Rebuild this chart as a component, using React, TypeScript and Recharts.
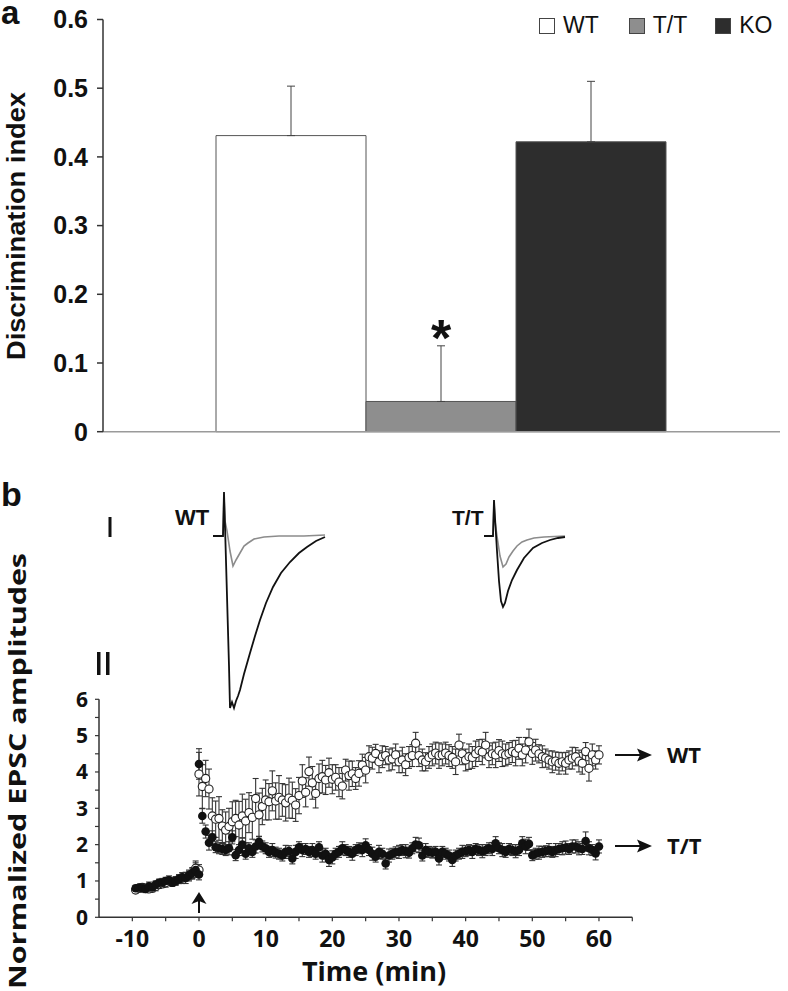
import React from "react";
import {
  BarChart,
  Bar,
  XAxis,
  YAxis,
  ErrorBar,
  Legend,
  ScatterChart,
  Scatter,
  LineChart,
  Line,
} from "recharts";

// ---- panel a: discrimination index ----
const groups = ["WT", "T/T", "KO"];
const discMeans = [0.431, 0.044, 0.422];
const discErrs = [0.072, 0.081, 0.088];
const groupFills = ["#ffffff", "#8e8e8e", "#2d2d2d"];
const discTicks = [0, 0.1, 0.2, 0.3, 0.4, 0.5, 0.6];

// ---- panel b: normalized EPSC amplitudes over time (min) ----
const baseTime = [
  -9.5, -9, -8.5, -8, -7.5, -7, -6.5, -6, -5.5, -5, -4.5, -4, -3.5, -3, -2.5, -2, -1.5, -1, -0.5, 0,
];
const wtBase = [
  0.75, 0.8, 0.82, 0.8, 0.78, 0.8, 0.85, 0.9, 0.92, 0.95, 1.0, 0.98, 1.0, 1.05, 1.08, 1.12, 1.15, 1.2, 1.35, 1.3,
];
const wtBaseErr = [
  0.08, 0.1, 0.1, 0.08, 0.08, 0.1, 0.12, 0.1, 0.1, 0.12, 0.1, 0.1, 0.12, 0.12, 0.15, 0.12, 0.15, 0.15, 0.2, 0.15,
];
const ttBase = [
  0.8, 0.82, 0.8, 0.78, 0.85, 0.82, 0.9, 0.95, 0.95, 1.0, 1.02, 0.95, 1.0, 1.05, 1.1, 1.08, 1.15, 1.22, 1.3, 1.18,
];
const ttBaseErr = [
  0.08, 0.08, 0.1, 0.1, 0.12, 0.1, 0.1, 0.1, 0.12, 0.1, 0.12, 0.1, 0.1, 0.12, 0.12, 0.15, 0.12, 0.15, 0.2, 0.15,
];

const postTime = [
  0, 0.5, 1, 1.5, 2, 2.5, 3, 3.5, 4, 4.5,
  5, 5.5, 6, 6.5, 7, 7.5, 8, 8.5, 9, 9.5,
  10, 10.5, 11, 11.5, 12, 12.5, 13, 13.5, 14, 14.5,
  15, 15.5, 16, 16.5, 17, 17.5, 18, 18.5, 19, 19.5,
  20, 20.5, 21, 21.5, 22, 22.5, 23, 23.5, 24, 24.5,
  25, 25.5, 26, 26.5, 27, 27.5, 28, 28.5, 29, 29.5,
  30, 30.5, 31, 31.5, 32, 32.5, 33, 33.5, 34, 34.5,
  35, 35.5, 36, 36.5, 37, 37.5, 38, 38.5, 39, 39.5,
  40, 40.5, 41, 41.5, 42, 42.5, 43, 43.5, 44, 44.5,
  45, 45.5, 46, 46.5, 47, 47.5, 48, 48.5, 49, 49.5,
  50, 50.5, 51, 51.5, 52, 52.5, 53, 53.5, 54, 54.5,
  55, 55.5, 56, 56.5, 57, 57.5, 58, 58.5, 59, 59.5,
  60,
];
const wtPost = [
  3.94, 3.6, 3.82, 3.53, 2.79, 2.7, 2.72, 2.51, 2.4, 2.5,
  2.63, 2.72, 2.54, 2.79, 2.65, 2.88, 2.75, 3.27, 2.82, 3.05,
  3.23, 3.18, 3.48, 3.2, 3.3, 3.23, 3.15, 3.28, 3.22, 3.09,
  3.35, 3.75, 3.44, 4.01, 3.7, 3.41, 3.82, 3.87, 3.78, 3.98,
  3.8, 3.85, 3.72, 3.61, 4.05, 3.9, 3.95, 3.82, 3.96, 4.19,
  4.05, 4.42, 4.38, 4.51, 4.28, 4.42, 4.45, 4.33, 4.36, 4.47,
  4.28, 4.33, 4.2, 4.4, 4.45, 4.79, 4.45, 4.33, 4.28, 4.4,
  4.47, 4.52, 4.45, 4.47, 4.52, 4.45, 4.4, 4.28, 4.74, 4.5,
  4.33, 4.42, 4.4, 4.5, 4.59, 4.55, 4.74, 4.42, 4.5, 4.47,
  4.59, 4.5, 4.47, 4.51, 4.56, 4.52, 4.65, 4.47, 4.6, 4.83,
  4.51, 4.6, 4.5, 4.42, 4.38, 4.33, 4.28, 4.3, 4.24, 4.28,
  4.24, 4.33, 4.38, 4.42, 4.3, 4.24, 4.56, 4.1, 4.47, 4.33,
  4.47,
];
const wtPostErr = [
  0.6, 0.6, 0.5, 0.55, 0.5, 0.5, 0.6, 0.45, 0.5, 0.5,
  0.55, 0.5, 0.65, 0.6, 0.6, 0.55, 0.6, 0.55, 0.6, 0.5,
  0.55, 0.5, 0.55, 0.5, 0.6, 0.45, 0.5, 0.55, 0.5, 0.45,
  0.5, 0.45, 0.4, 0.4, 0.45, 0.4, 0.4, 0.45, 0.4, 0.4,
  0.4, 0.35, 0.4, 0.35, 0.3, 0.4, 0.35, 0.3, 0.35, 0.3,
  0.35, 0.3, 0.3, 0.25, 0.3, 0.3, 0.25, 0.3, 0.3, 0.3,
  0.3, 0.35, 0.3, 0.3, 0.3, 0.3, 0.3, 0.3, 0.25, 0.3,
  0.3, 0.3, 0.35, 0.3, 0.3, 0.3, 0.3, 0.35, 0.3, 0.3,
  0.3, 0.35, 0.3, 0.35, 0.3, 0.35, 0.35, 0.3, 0.3, 0.35,
  0.3, 0.35, 0.3, 0.3, 0.3, 0.35, 0.3, 0.3, 0.35, 0.35,
  0.3, 0.3, 0.25, 0.3, 0.25, 0.25, 0.3, 0.25, 0.3, 0.25,
  0.3, 0.25, 0.3, 0.25, 0.3, 0.3, 0.25, 0.35, 0.3, 0.25,
  0.25,
];
const ttPost = [
  4.22, 2.79, 2.36, 2.05, 2.2, 1.93, 1.9, 1.88, 1.85, 1.9,
  2.2, 1.71, 1.85, 2.0, 1.75, 1.9, 1.8, 1.95, 2.08, 1.95,
  1.9, 1.8, 1.85, 1.78, 1.75, 1.7, 1.8, 1.82, 1.62, 1.8,
  1.93, 1.85, 1.88, 1.8, 1.85, 1.75, 1.93, 1.7, 1.75, 1.58,
  1.65, 1.75, 1.8, 1.9, 1.85, 1.8, 1.75, 1.85, 1.9, 1.85,
  1.98, 1.85, 1.75, 1.67, 1.8, 1.75, 1.48, 1.7, 1.75, 1.79,
  1.8, 1.85, 1.82, 1.78, 1.9, 2.0, 1.98, 1.7, 1.85, 1.8,
  1.78, 1.8, 1.62, 1.8, 1.75, 1.7, 1.58, 1.7, 1.75, 1.8,
  1.82, 1.85, 1.8, 1.88, 1.85, 1.82, 1.85, 1.9, 1.88, 2.04,
  1.9, 1.85, 1.8, 1.88, 1.85, 1.82, 1.85, 2.04, 1.95, 2.02,
  1.71, 1.75, 1.78, 1.8, 1.82, 1.85, 1.8, 1.85, 1.88, 1.9,
  1.92, 1.88, 1.95, 1.95, 1.9, 1.88, 2.1, 1.9, 1.85, 1.76,
  1.95,
];
const ttPostErr = [
  0.42, 0.2, 0.18, 0.2, 0.18, 0.15, 0.15, 0.15, 0.15, 0.18,
  0.18, 0.15, 0.15, 0.18, 0.15, 0.15, 0.15, 0.18, 0.15, 0.15,
  0.15, 0.15, 0.18, 0.15, 0.15, 0.15, 0.18, 0.15, 0.15, 0.18,
  0.15, 0.18, 0.15, 0.15, 0.18, 0.15, 0.15, 0.18, 0.15, 0.18,
  0.18, 0.15, 0.15, 0.18, 0.15, 0.15, 0.18, 0.15, 0.15, 0.18,
  0.18, 0.15, 0.18, 0.15, 0.18, 0.15, 0.15, 0.18, 0.15, 0.15,
  0.18, 0.15, 0.18, 0.15, 0.15, 0.2, 0.2, 0.15, 0.18, 0.15,
  0.15, 0.15, 0.18, 0.15, 0.15, 0.15, 0.18, 0.15, 0.15, 0.18,
  0.15, 0.15, 0.18, 0.15, 0.15, 0.18, 0.15, 0.15, 0.18, 0.18,
  0.15, 0.18, 0.15, 0.15, 0.15, 0.18, 0.15, 0.18, 0.2, 0.18,
  0.15, 0.15, 0.18, 0.15, 0.15, 0.18, 0.15, 0.18, 0.15, 0.18,
  0.18, 0.15, 0.18, 0.18, 0.18, 0.15, 0.25, 0.18, 0.15, 0.18,
  0.18,
];
const xTicks = [-10, -5, 0, 5, 10, 15, 20, 25, 30, 35, 40, 45, 50, 55, 60, 65];
const yTicks = [0, 0.5, 1, 1.5, 2, 2.5, 3, 3.5, 4, 4.5, 5, 5.5, 6];

// ---- example EPSC traces (ms from stimulus, amplitude in arbitrary units) ----
const wtGrayT = [-11, -1, 0, 1, 3, 6, 9, 12, 16, 20, 24, 30, 40, 55, 80, 101];
const wtGrayA = [0, 0, 40, 15, 5, -15, -30, -24, -17, -10, -7, -3, -1, 0, 0, 1];
const wtBlackT = [-11, -1, 0, 1, 3, 5, 6, 8, 10, 12, 14, 16, 20, 26, 31, 36, 42, 49, 57, 66, 75, 83, 92, 101];
const wtBlackA = [0, 0, 44, 10, -60, -130, -172, -166, -172, -165, -160, -154, -138, -117, -100, -84, -67, -51, -37, -26, -17, -11, -5, -1];
const ttGrayT = [-10, -1, 0, 1, 3, 6, 9, 12, 15, 19, 23, 28, 33, 40, 50, 71];
const ttGrayA = [0, 0, 34, 15, 0, -20, -31, -28, -21, -15, -10, -6, -4, -2, -1, 0];
const ttBlackT = [-10, -1, 0, 1, 3, 5, 7, 9, 11, 14, 18, 23, 30, 39, 48, 56, 64, 71];
const ttBlackA = [0, 0, 36, 18, -15, -45, -65, -71, -67, -55, -44, -34, -22, -12, -7, -4, -2, -1];

const ARIAL = "'Liberation Sans', Arial, sans-serif";
const SANS = "'Open Sans', 'Noto Sans', sans-serif";

const discRow: any = { name: "" };
groups.forEach((g, i) => {
  discRow[`g${i}`] = discMeans[i];
  discRow[`e${i}`] = [0, discErrs[i]];
});

const toPoints = (ts: number[], vs: number[], es: number[]) =>
  ts.map((t, i) => ({ t, v: vs[i], e: es[i] }));
const wtData = [...toPoints(baseTime, wtBase, wtBaseErr), ...toPoints(postTime, wtPost, wtPostErr)];
const ttData = [...toPoints(baseTime, ttBase, ttBaseErr), ...toPoints(postTime, ttPost, ttPostErr)];

const toTrace = (ts: number[], as: number[]) => ts.map((t, i) => ({ t, a: as[i] }));

// legend in series order (recharts hands the payload back reversed here)
function LegendContent() {
  return (
    <div style={{ display: "flex", alignItems: "center", fontFamily: ARIAL, fontSize: 23, color: "#111" }}>
      {groups.map((g, i) => (
        <div key={g} style={{ display: "flex", alignItems: "center", marginRight: i === 0 ? 30 : 28 }}>
          <span
            style={{
              display: "inline-block",
              width: 14,
              height: 14,
              background: groupFills[i],
              border: "1px solid #444",
              marginRight: 8,
            }}
          />
          <span>{g}</span>
        </div>
      ))}
    </div>
  );
}

const OpenDot = (p: any) => (
  <circle cx={p.cx} cy={p.cy} r={4.1} fill="#fff" stroke="#222" strokeWidth={1.1} />
);
const FilledDot = (p: any) => <circle cx={p.cx} cy={p.cy} r={4.3} fill="#111" />;

function Trace({ left, grayT, grayA, blackT, blackA, xMax }: any) {
  return (
    <div style={{ position: "absolute", left, top: 491 }}>
      <LineChart width={12 + xMax} height={220} margin={{ top: 0, right: 0, bottom: 0, left: 0 }}>
        <XAxis type="number" dataKey="t" domain={[-12, xMax]} hide allowDataOverflow />
        <YAxis type="number" domain={[-175, 45]} hide allowDataOverflow />
        <Line data={toTrace(grayT, grayA)} dataKey="a" stroke="#8c8c8c" strokeWidth={1.6} dot={false} isAnimationActive={false} />
        <Line data={toTrace(blackT, blackA)} dataKey="a" stroke="#111" strokeWidth={1.8} dot={false} isAnimationActive={false} />
      </LineChart>
    </div>
  );
}

export default function App() {
  return (
    <div style={{ position: "absolute", left: 0, top: 0, width: 788, height: 991, background: "#fff", overflow: "hidden" }}>
      {/* panel a */}
      <div style={{ position: "absolute", left: 0, top: 0 }}>
        <BarChart
          width={788}
          height={470}
          data={[discRow]}
          barGap={0}
          barCategoryGap={113}
          margin={{ top: 19.5, right: 8, bottom: 36.3, left: 20 }}
        >
          <XAxis dataKey="name" tick={false} tickLine={false} height={2} axisLine={{ stroke: "#9a9a9a", strokeWidth: 1.5 }} />
          <YAxis
            domain={[0, 0.6]}
            ticks={discTicks}
            width={83}
            tickSize={6}
            tickMargin={9}
            axisLine={{ stroke: "#333", strokeWidth: 1.5 }}
            tickLine={{ stroke: "#333", strokeWidth: 1.5 }}
            tick={{ fill: "#111", fontSize: 25, fontWeight: 700, fontFamily: ARIAL }}
            tickFormatter={(v: number) => (v === 0 ? "0" : v.toFixed(1))}
          />
          <Legend
            align="center"
            verticalAlign="middle"
            wrapperStyle={{ top: 12, left: 539, width: 260 }}
            content={<LegendContent />}
          />
          {groups.map((g, i) => (
            <Bar
              key={g}
              dataKey={`g${i}`}
              name={g}
              fill={groupFills[i]}
              stroke="#555"
              strokeWidth={1}
              isAnimationActive={false}
            >
              <ErrorBar dataKey={`e${i}`} width={4} stroke="#444" strokeWidth={1} direction="y" />
            </Bar>
          ))}
        </BarChart>
      </div>

      {/* panel b traces */}
      <Trace left={212} grayT={wtGrayT} grayA={wtGrayA} blackT={wtBlackT} blackA={wtBlackA} xMax={102} />
      <Trace left={482} grayT={ttGrayT} grayA={ttGrayA} blackT={ttBlackT} blackA={ttBlackA} xMax={72} />

      {/* panel b time course */}
      <div style={{ position: "absolute", left: 0, top: 680 }}>
        <ScatterChart width={788} height={311} margin={{ top: 19.3, right: 155.7, bottom: 33.7, left: 20 }}>
          <XAxis
            type="number"
            dataKey="t"
            domain={[-15, 65]}
            ticks={xTicks}
            height={40}
            tickSize={4}
            tickMargin={9}
            axisLine={{ stroke: "#333", strokeWidth: 1.5 }}
            tickLine={{ stroke: "#333", strokeWidth: 1.2 }}
            tick={{ fill: "#111", fontSize: 23, fontWeight: 700, fontFamily: SANS }}
            tickFormatter={(v: number) => (v % 10 === 0 && v <= 60 ? String(v) : "")}
            interval={0}
          />
          <YAxis
            type="number"
            dataKey="v"
            domain={[0, 6]}
            ticks={yTicks}
            width={79}
            tickSize={4}
            tickMargin={7}
            axisLine={{ stroke: "#333", strokeWidth: 1.5 }}
            tickLine={{ stroke: "#333", strokeWidth: 1.2 }}
            tick={{ fill: "#111", fontSize: 21, fontWeight: 700, fontFamily: SANS }}
            tickFormatter={(v: number) => (Number.isInteger(v) ? String(v) : "")}
            interval={0}
          />
          <Scatter name="WT" data={wtData} shape={OpenDot} isAnimationActive={false}>
            <ErrorBar dataKey="e" width={3} stroke="#333" strokeWidth={1.1} direction="y" />
          </Scatter>
          <Scatter name="T/T" data={ttData} shape={FilledDot} isAnimationActive={false}>
            <ErrorBar dataKey="e" width={3} stroke="#333" strokeWidth={1.1} direction="y" />
          </Scatter>
        </ScatterChart>
      </div>

      {/* annotations */}
      <svg width={788} height={991} style={{ position: "absolute", left: 0, top: 0, pointerEvents: "none" }}>
        <text x={1} y={24} fontFamily={ARIAL} fontWeight={700} fontSize={33} fill="#111">a</text>
        <text x={1} y={506} fontFamily={ARIAL} fontWeight={700} fontSize={34} fill="#111">b</text>
        <text
          transform="translate(25,226) rotate(-90)"
          textAnchor="middle"
          fontFamily={ARIAL}
          fontWeight={700}
          fontSize={26}
          fill="#111"
          textLength={268}
          lengthAdjust="spacingAndGlyphs"
        >
          Discrimination index
        </text>
        <text x={441} y={356} textAnchor="middle" fontFamily={ARIAL} fontWeight={700} fontSize={52} fill="#111">*</text>

        <text x={175} y={525} fontFamily={ARIAL} fontWeight={700} fontSize={22} fill="#111">WT</text>
        <text x={452} y={525} fontFamily={ARIAL} fontWeight={700} fontSize={21} fill="#111">T/T</text>
        <rect x={108.5} y={517} width={3} height={20} fill="#111" />
        <rect x={97} y={652} width={3.5} height={23} fill="#111" />
        <rect x={106} y={652} width={3.5} height={23} fill="#111" />

        <text
          transform="translate(26,771) rotate(-90)"
          textAnchor="middle"
          fontFamily={SANS}
          fontWeight={700}
          fontSize={24}
          fill="#111"
          textLength={436}
          lengthAdjust="spacingAndGlyphs"
        >
          Normalized EPSC amplitudes
        </text>
        <text x={374} y={981} textAnchor="middle" fontFamily={SANS} fontWeight={700} fontSize={27} fill="#111">
          Time (min)
        </text>

        {/* stimulus arrow */}
        <line x1={199} y1={913} x2={199} y2={898} stroke="#111" strokeWidth={2} />
        <polygon points="191.5,904 199,892 206.5,904 199,901" fill="#111" />

        {/* group arrows */}
        <line x1={615} y1={755} x2={642} y2={755} stroke="#111" strokeWidth={2} />
        <polygon points="637,748.5 652,755 637,761.5 640,755" fill="#111" />
        <text x={667} y={763} fontFamily={SANS} fontWeight={700} fontSize={22} fill="#111">WT</text>
        <line x1={615} y1={846} x2={642} y2={846} stroke="#111" strokeWidth={2} />
        <polygon points="637,839.5 652,846 637,852.5 640,846" fill="#111" />
        <text x={667} y={854} fontFamily={SANS} fontWeight={700} fontSize={22} fill="#111">T/T</text>
      </svg>
    </div>
  );
}
